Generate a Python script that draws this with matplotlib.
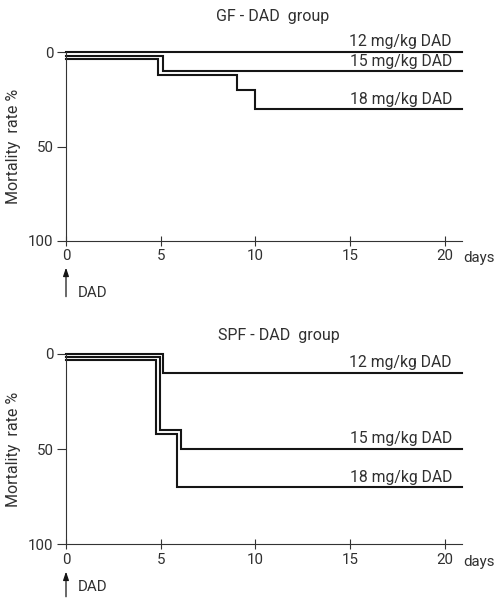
import numpy as np
import matplotlib
matplotlib.use('Agg')
import matplotlib.pyplot as plt

plt.rcParams['font.family'] = ['Roboto', 'DejaVu Sans']

# dose groups and the observation period (days)
doses      = ['12 mg/kg DAD', '15 mg/kg DAD', '18 mg/kg DAD']
period_end = 20.9
day_ticks  = [0, 5, 10, 15, 20]
rate_ticks = [0, 50, 100]

# germ-free animals: days on which mortality changed, and cumulative mortality %
gf_days = [[0], [0, 5.1], [0, 4.85, 9.0, 10.0]]
gf_mort = [[0], [0, 10], [0, 12, 20, 30]]

# specific-pathogen-free animals
spf_days = [[0, 5.1], [0, 4.95, 6.05], [0, 4.75, 5.85]]
spf_mort = [[0, 10], [0, 40, 50], [0, 42, 70]]

# small lift off the zero line so coinciding curves stay apart
lift = [0, 1.8, 3.5]

INK  = '#151515'
TEXT = '#303030'


def draw_panel(ax, title, days, mort, label_y, title_xy, dad_pos):
    for d, m, lf in zip(days, mort, lift):
        x = np.array(d + [period_end], dtype=float)
        y = np.maximum(np.array(m + [m[-1]], dtype=float), lf)
        ax.step(x, y, where='post', color=INK, lw=1.5, clip_on=False,
                solid_joinstyle='miter')

    for text, yy in zip(doses, label_y):
        ax.text(20.37, yy, text, ha='right', va='baseline',
                fontsize=11.3, color=TEXT)

    ax.set_xlim(0, period_end)
    ax.set_ylim(100, 0)
    ax.set_xticks(day_ticks)
    ax.set_yticks(rate_ticks)
    ax.set_xticklabels([str(t) for t in day_ticks])
    ax.set_yticklabels([str(t) for t in rate_ticks])

    for side in ('top', 'right'):
        ax.spines[side].set_visible(False)
    for side in ('left', 'bottom'):
        ax.spines[side].set_linewidth(0.8)
        ax.spines[side].set_color('#333333')

    ax.tick_params(axis='x', direction='inout', length=6.5, width=0.8,
                   pad=3.0, labelsize=10.8, colors='#333333', labelcolor=TEXT)
    ax.tick_params(axis='y', direction='out', length=6.5, width=0.8,
                   pad=2.5, labelsize=10.8, colors='#333333', labelcolor=TEXT)
    ax.set_ylabel('Mortality  rate %', fontsize=11.5, color=TEXT, labelpad=5)

    ax.text(title_xy[0], title_xy[1], title, transform=ax.transAxes,
            ha='center', va='baseline', fontsize=11.5, color=TEXT)

    # days unit after the last tick label
    ax.annotate('days', xy=(20.95, 0), xycoords=ax.get_xaxis_transform(),
                xytext=(0, -7.4), textcoords='offset points',
                ha='left', va='top', fontsize=10.8, color=TEXT)

    # dosing arrow at day 0
    xt = ax.get_xaxis_transform()
    ax.annotate('', xy=(0, dad_pos[0]), xycoords=xt,
                xytext=(0, dad_pos[1]), textcoords=xt,
                arrowprops=dict(arrowstyle='-|>,head_length=0.5,head_width=0.17',
                                color=INK, lw=0.9, shrinkA=0, shrinkB=0))
    ax.text(0.63, dad_pos[2], 'DAD', transform=xt,
            ha='left', va='baseline', fontsize=10.8, color=TEXT)


fig = plt.figure(figsize=(4.94, 6.04), dpi=100)
ax_gf  = fig.add_axes([0.1336, 0.6015, 0.8016, 0.3119])
ax_spf = fig.add_axes([0.1336, 0.0988, 0.8016, 0.3156])

draw_panel(ax_gf, 'GF - DAD  group', gf_days, gf_mort,
           label_y=[-3.3, 7.1, 27.3], title_xy=(0.523, 1.168),
           dad_pos=(-0.143, -0.297, -0.297))
draw_panel(ax_spf, 'SPF - DAD  group', spf_days, spf_mort,
           label_y=[6.8, 46.7, 67.2], title_xy=(0.538, 1.072),
           dad_pos=(-0.143, -0.275, -0.245))

plt.savefig('out.png', dpi=100)
plt.close()
